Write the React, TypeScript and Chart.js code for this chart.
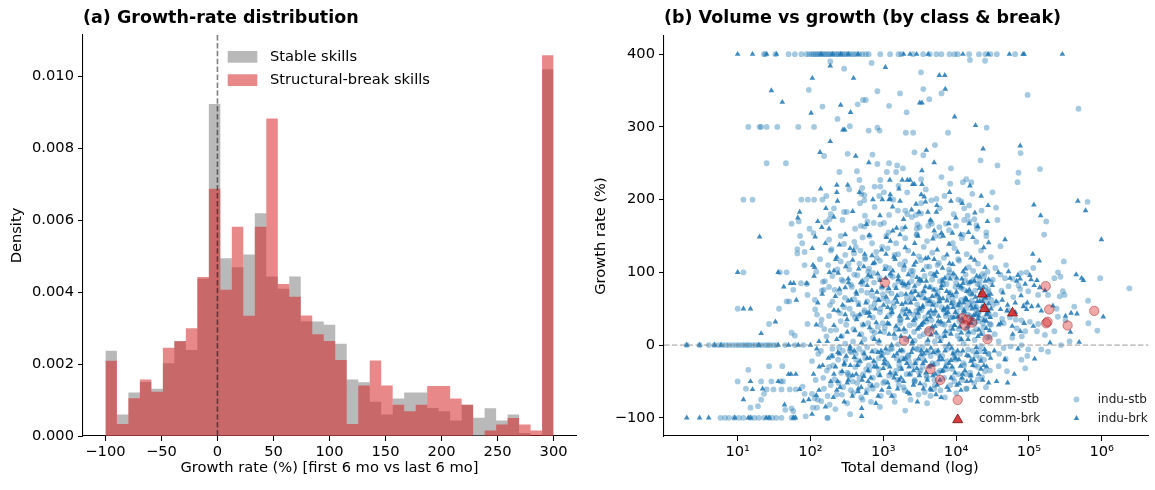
import React, { useEffect, useRef } from 'react';
import { Chart, registerables } from 'chart.js';

Chart.register(...registerables);

const FONT = "'DejaVu Sans', sans-serif";

// ---------- Panel (a): histogram ----------
const HIST_MIN = -100;
const HIST_MAX = 300;
const stableDensity = [
  0.00237, 0.0006, 0.00121, 0.0015, 0.00131, 0.00202, 0.00264, 0.00239, 0.00437, 0.00922,
  0.00494, 0.00469, 0.00504, 0.00619, 0.00443, 0.00409, 0.00443, 0.00319, 0.00318, 0.00309,
  0.00256, 0.00157, 0.00149, 0.00095, 0.0006, 0.00104, 0.00121, 0.00121, 0.00078, 0.00069,
  0.00043, 0.00087, 0.00051, 0.00077, 0.00043, 0.0006, 0.00008, 0, 0.01019,
];
const breakDensity = [
  0.00209, 0.00033, 0.00105, 0.00157, 0.00123, 0.00245, 0.00263, 0.00299, 0.00442, 0.00687,
  0.00406, 0.00581, 0.00334, 0.00581, 0.00882, 0.00422, 0.00387, 0.00335, 0.00283, 0.00264,
  0.00211, 0.00033, 0.0014, 0.0021, 0.0014, 0.00087, 0.00069, 0.00087, 0.00139, 0.00139,
  0.00104, 0.00087, 0, 0.00015, 0.00032, 0.0005, 0.00032, 0.00015, 0.01058,
];
const histXTicks = [-100, -50, 0, 50, 100, 150, 200, 250, 300];
const histYTicks = [0, 0.002, 0.004, 0.006, 0.008, 0.01];

// ---------- Panel (b): scatter [total demand, growth %] ----------
const scatterXTicks = [10, 100, 1000, 10000, 100000, 1000000];
const scatterYTicks = [-100, 0, 100, 200, 300, 400];

const induStb: number[][] = [
  [23,400],[24,400],[33,400],[50,400],[61,400],[75,400],[88,400],[96,400],[104,400],[110,400],[117,400],[124,400],[131,400],[139,400],[147,400],[156,400],[165,400],[175,400],[186,400],[198,400],[212,400],[226,400],[240,400],[256,400],[272,400],[290,400],[310,400],[335,400],[362,400],[392,400],[425,400],[465,400],[515,400],[575,400],[630,400],[910,400],[1240,400],[1620,400],[1780,400],[2570,400],[3530,400],[4350,400],[5370,400],[6280,400],[8130,400],[9500,400],[10500,400],[15100,400],[20600,400],[25300,400],[29600,400],[36300,400],[64800,400],
  [14,300],[20,300],[21,300],[25,300],[35,300],[68,300],[112,300],[25,250],[46,250],
  [12,200],[16,200],[75,200],[92,200],[112,200],[146,200],[12,100],[38,100],[47,100],[10,50],[37,50],
  [2,0],[3,0],[4,0],[4.8,0],[5.5,0],[6.2,0],[6.9,0],[7.6,0],[8.5,0],[9.5,0],[10.4,0],[11.5,0],[12.5,0],[13.5,0],[14.5,0],[16,0],[17.5,0],[19.5,0],[21.5,0],[24,0],[26,0],[28,0],[31,0],[34,0],[45,0],[61,0],[80,0],
  [5.8,-100],[6.7,-100],[7.6,-100],[9,-100],[10.4,-100],[12,-100],[15,-100],[17,-100],[19.5,-100],[23,-100],[27,-100],[30,-100],[34,-100],[40,-100],[55,-100],[60,-100],[170,-100],
  [95,351],[146,328],[154,260],[69,170],[55,167],[97,160],[110,154],[72,150],[163,169],
  [187,390],[690,388],[290,380],[3300,375],[15500,392],[25000,391],[830,349],[1700,346],[3550,352],[6300,346],[4280,338],[525,337],[575,337],[445,331],[1200,329],[2090,320],[235,311],[347,301],[630,295],[830,299],[890,295],[2040,292],[2570,292],[26300,299],[7740,292],[5130,275],[3550,261],[2680,265],[324,263],[710,262],[21700,254],[830,249],[1200,250],[1550,247],[1860,243],[8500,243],[250,238],[435,239],[1120,238],[1500,238],[6300,231],[12400,224],[13800,228],[16200,224],[470,227],[910,227],[3310,228],[1620,219],[8300,222],[513,216],[500,208],[550,206],[760,218],[910,218],[1020,210],[550,199],[4570,199],[5370,201],[11800,198],[15100,192],[31600,210],[2000,185],[2140,180],[2820,179],[3300,181],[1200,179],[910,166],[740,168],[605,170],[490,164],[550,163],[288,183],[316,183],[182,173],[190,180],[2950,166],[3150,162],[2880,160],[4140,164],[4650,167],[5890,162],[7250,167],[10000,164],[12900,172],[15100,170],[17800,173],[19000,165],[12900,188],
  [96000,344],[480000,325],[77000,264],[37000,247],[142000,242],[72000,237],[70000,224],[35400,189],[640000,197],[173000,170],[37000,172],[162000,152],
  [77,140],[66,132],[83,128],[66,126],[83,110],[120,101],[148,87],[152,76],[74,85],[58,76],[47,60],[51,60],[89,84],[91,69],[116,49],[143,75],[27,29],[55,17],[61,13],[91,29],[138,28],[155,22],[123,42],[14,-34],[10,-50],[13,-60],[15,-86],[19,-84],[21,-75],[21,-50],[29,-50],[39,-50],[42,-50],[25,-61],[31,-61],[40,-61],[52,-61],[63,-61],[23,-67],[27,-29],[41,-29],[55,-87],[58,-91],[45,-89],[78,-57],[83,-67],[105,-67],[114,-73],[141,-77],[108,-86],[86,-98],[123,-86],
  [180,145],[260,150],[400,142],[520,148],[1100,150],[1500,140],[2000,147],[2900,152],[4000,143],[6000,150],[9000,140],[12000,147],[19000,142],[26000,150],
  [190,130],[300,124],[420,135],[560,120],[800,128],[1150,133],[1600,125],[2200,130],[3100,122],[3600,135],[4700,127],[6800,120],[9500,133],[14000,125],[22000,130],[30000,121],
  [175,110],[260,115],[340,104],[470,112],[620,101],[900,116],[1200,106],[1700,111],[2400,102],[3300,117],[4300,108],[5800,113],[8000,104],[11000,116],[15000,107],[20000,112],[27000,101],
  [200,95],[280,88],[400,97],[580,90],[730,99],[1350,94],[1800,87],[2500,96],[3200,90],[4500,98],[6000,88],[7800,95],[10000,86],[13500,97],[17500,90],[23000,98],[30000,87],
  [180,80],[250,72],[360,83],[500,75],[700,68],[950,79],[1300,71],[1900,82],[2600,74],[3400,66],[4400,80],[5600,72],[7400,84],[9800,68],[12500,77],[16000,70],[21000,83],[27000,73],
  [200,60],[290,52],[400,63],[550,48],[760,57],[1000,64],[1400,53],[1850,46],[2300,60],[3100,50],[4000,62],[5300,55],[7000,47],[9000,61],[11500,52],[15000,58],[19000,48],[25000,62],[32000,55],[2600,42],[4800,58],[10500,40],[20000,44],
  [180,40],[260,33],[380,43],[520,28],[720,38],[980,30],[1300,44],[1750,35],[2300,27],[3000,40],[3900,32],[5000,44],[6500,29],[8400,38],[11000,33],[14500,42],[18000,30],[24000,37],[30000,28],
  [190,20],[270,12],[390,22],[550,8],[760,17],[1050,24],[1450,10],[2000,19],[2700,6],[3600,15],[4700,23],[6200,9],[8100,18],[10500,13],[13800,22],[18000,7],[23000,16],[29000,11],
  [200,-5],[300,2],[420,-12],[600,-3],[850,4],[1150,-10],[1600,1],[2200,-14],[3000,-6],[4000,3],[5400,-11],[7200,-2],[9600,-13],[12700,2],[17000,-8],[22000,-1],[28000,-12],
  [180,-30],[240,-20],[330,-40],[460,-25],[640,-35],[870,-18],[1200,-42],[1650,-28],[2250,-22],[3100,-38],[4000,-45],[5500,-25],[7500,-33],[10000,-20],[13500,-40],[18000,-28],[25000,-36],
  [190,-55],[270,-68],[380,-50],[520,-75],[720,-60],[1000,-52],[1400,-70],[1900,-58],[2700,-48],[3700,-65],[5100,-55],[7000,-72],[9500,-50],[14000,-60],[20000,-47],
  [220,-88],[350,-95],[900,-85],[2000,-90],[4000,-80],[173,-100],
  [1150,60],[1450,82],[1700,30],[1900,104],[2100,65],[2450,88],[2650,18],[2850,47],[3250,70],[3450,-3],[3700,95],[4100,57],[4600,34],[5200,76],[5600,12],[5900,60],[6600,90],[7000,28],[7700,51],[8200,72],[8900,38],[9400,95],[10300,55],[10800,22],[11600,79],[12600,44],[13300,64],[14800,85],[15500,40],[16400,61],[17300,18],[18300,75],[19100,52],[20200,33],[21300,90],[22400,62],[23800,24],[25100,80],[26400,49],[27800,66],[29100,29],[900,45],[700,20],[600,60],[450,40],[350,-8],[1500,-35],[2700,-50],[5000,-60],[9000,-45],
  [40700,136],[302000,115],[251000,100],[272000,94],[955000,92],[2400000,78],[34600,106],[40700,97],[47000,92],[60000,91],[78000,99],[93000,100],[115000,106],[224000,92],[293000,74],[265000,67],[309000,69],[52500,81],[76000,77],[98000,74],[134000,69],[183000,69],[650000,61],[420000,53],[240000,50],[250000,39],[318000,34],[656000,30],[870000,20],[34600,42],[43000,36],[55000,38],[79000,34],[103000,32],[134000,29],[68000,23],[89000,19],[129000,19],[166000,14],[224000,19],[38500,5],[45000,-4],[59000,10],[79000,0],[98000,-6],[148000,-6],[276000,0],[362000,5],[48000,-19],[38500,-29],[50000,-36],[79000,-20],[183000,-9],[89000,-32],
  [115,62],[128,-12],[135,118],[142,35],[150,-45],[158,88],[166,12],[172,-70],[185,55],[195,132],[205,-28],[215,76],[225,21],[235,104],[245,-52],[255,44],[268,90],[278,-8],[288,139],[298,65],[310,28],[322,-38],[334,112],[346,50],[358,-62],[370,80],[385,5],[398,126],[410,38],[425,-20],[440,96],[455,58],[470,-45],[485,130],[500,15],[515,84],[530,-10],[548,45],[565,118],[582,-33],[600,72],[620,30],[640,105],[660,-55],[680,52],[700,140],[722,10],[745,86],[768,-25],[790,63],[815,120],[840,25],[865,-40],[890,92],[915,50],[940,-12],[965,135],[990,70],
  [1030,18],[1070,108],[1110,-26],[1160,75],[1210,41],[1260,96],[1310,-5],[1370,58],[1430,124],[1490,22],[1560,-48],[1620,88],[1690,35],[1760,70],[1830,-18],[1910,49],[1990,115],[2070,8],[2160,80],[2250,44],[2350,-40],[2450,66],[2560,102],[2670,29],[2790,-22],[2910,56],[3040,85],[3170,12],[3310,48],[3460,-30],[3610,73],[3770,38],[3940,108],[4110,20],[4290,62],[4480,-15],[4680,90],[4890,43],[5100,5],[5330,68],[5560,110],[5810,30],[6070,-35],[6340,52],[6620,83],[6910,14],[7220,40],[7540,-22],[7870,66],[8220,100],[8590,25],[8970,58],[9370,-10],[9780,80],[10200,46],[10700,118],[11200,8],[11700,62],[12200,32],[12700,-25],[13300,89],[13900,51],[14500,15],[15100,72],[15800,-42],[16500,38],[17200,102],[18000,57],[18800,22],[19600,84],[20500,45],[21400,-18],[22400,70],[23400,30],[24400,95],[25500,54],[26700,10],[27900,76],[29200,40],[30500,62],
  [32000,90],[34000,15],[36500,58],[39000,-12],[42000,75],[45000,30],[48500,110],[52000,48],[56000,-2],[61000,66],[66000,35],[72000,82],[80000,12],[88000,55],[95000,-15],
  [105,-22],[118,-48],[126,-75],[139,-8],[153,-60],[168,-35],[183,-82],[197,-15],[214,-47],[229,-68],[247,-3],[263,-38],[281,-58],[301,-20],[319,-80],[341,-43],[364,-10],[388,-66],[412,-30],[438,-52],[466,-5],[497,-72],[528,-40],[562,-18],[598,-62],[636,-28],[678,-78],[720,-45],[768,-8],[815,-55],[868,-33],[925,-70],[985,-12],[1048,-50],[1116,-25],[1188,-65],[1265,-5],[1348,-40],[1435,-78],[1528,-18],[1627,-55],[1733,-32],[1845,-8],[1964,-62],[2091,-40],[2227,-15],[2371,-75],[2525,-28],[2688,-50],[2862,-5],[3048,-68],[3245,-35],[3455,-18],[3680,-55],[3918,-42],[4172,-10],[4442,-70],[4730,-25],[5036,-48],[5362,-8],[5710,-38],[6080,-62],[6474,-15],[6893,-45],[7340,-28],[7815,-5],[8322,-55],[8861,-33],[9435,-18],[10046,-66],[10697,-40],[11390,-12],[12128,-48],[12914,-28],[13750,-60],[14640,-6],[15590,-38],[16600,-20],[17680,-52],[18820,-14],[20040,-30],[21340,-8],[22720,-44],[24200,-20],[25760,-58],[27430,-12],[29200,-35],
  [165,205],[210,188],[275,172],[340,214],[410,160],[480,195],[560,178],[650,150],[760,190],[880,205],[1020,168],[1180,155],[1370,200],[1590,185],[1840,160],[2130,210],[2470,176],[2860,152],[3310,195],[3840,214],[4450,170],[5150,150],[5970,188],[6920,205],[8010,158],[9280,180],[10750,200],[12450,152],[14420,178],[16700,208],[19350,160],[22400,185],[26000,155],
];

const induBrk: number[][] = [
  [10,400],[16,400],[25,400],[34,400],[140,400],[200,400],[260,400],[330,400],[450,400],[1900,400],[2330,400],[2870,400],[4140,400],[12400,400],[27600,400],[54000,400],[83000,400],[86000,400],[288000,400],
  [2,0],[3,0],[4.8,0],[5.9,0],[19.5,0],[36,0],[50,0],[68,0],[100,0],
  [2,-100],[3,-100],[4,-100],[9.1,-100],[14,-100],[15,-100],[24.7,-100],[27,-100],[58,-100],[62,-100],
  [106,367],[29,350],[41,334],[102,319],[135,265],[138,215],[163,188],[71,183],[67,175],[126,170],[143,162],[20,149],[116,149],
  [187,384],[1070,382],[390,367],[5890,371],[7000,371],[7100,352],[3170,333],[3400,333],[260,330],[355,320],[9550,314],[279,296],[295,296],[18500,302],[187,280],[23500,270],[3900,268],[418,260],[633,251],[5000,251],[3390,240],[1230,227],[1820,227],[2140,227],[2330,227],[3400,221],[2680,221],[2530,221],[15500,219],[230,220],[325,220],[230,210],[1245,207],[1245,201],[970,200],[1200,200],[1700,198],[2820,194],[3800,197],[3320,207],[8500,198],[27500,192],[3090,183],[4100,183],[5370,183],[1900,173],[209,176],[1520,161],[1350,157],[5000,157],[6300,154],[7940,167],[8900,154],[15200,167],[19900,163],
  [76000,274],[117000,193],[470000,198],[600000,185],[145000,178],[990000,145],[47000,145],
  [106,133],[108,110],[114,107],[10,100],[36,100],[43,80],[53,85],[59,85],[64,62],[89,85],[126,58],[12,50],[15,50],[33,32],[21,16],[131,5],[15,-50],[16,-61],[12,-75],[22,-60],[36,-50],[50,-40],[54,-40],[63,-40],[44,-82],[71,-61],[80,-77],[95,-75],[105,-95],[120,-69],
  [250,138],[640,151],[1250,143],[1700,152],[2700,140],[4800,146],[8000,139],[11500,152],[17000,148],[28000,141],
  [230,121],[350,133],[700,123],[950,131],[1400,121],[2000,134],[2600,125],[3800,119],[5500,131],[7500,124],[10500,128],[16000,120],[24000,134],
  [210,102],[380,117],[540,108],[760,113],[1050,104],[1450,118],[1950,109],[2800,114],[3500,103],[5000,118],[6500,106],[9000,111],[12500,101],[18000,117],[25000,107],
  [240,99],[330,91],[490,86],[680,94],[900,89],[1250,98],[1600,90],[2200,85],[2900,93],[3900,88],[5200,95],[7000,92],[9200,98],[12000,91],[16000,87],[21000,94],[28000,90],
  [220,67],[300,79],[430,70],[600,82],[820,73],[1100,66],[1500,78],[2050,70],[2700,81],[3600,74],[4700,67],[6200,78],[8200,71],[10800,82],[14000,74],[18500,66],[23500,79],[30000,70],
  [240,47],[330,61],[460,55],[640,45],[860,62],[1150,52],[1550,59],[2100,49],[2700,63],[3500,54],[4500,47],[5900,60],[7600,52],[9800,45],[12800,58],[16500,50],[21000,60],[28000,46],[1800,56],[3000,44],[6600,64],[13500,64],[17500,41],[8600,57],
  [210,27],[300,42],[430,35],[600,44],[800,31],[1100,38],[1500,26],[2000,42],[2600,34],[3400,29],[4400,39],[5700,33],[7300,43],[9400,27],[12000,36],[15800,31],[20500,40],[26000,33],
  [230,8],[320,18],[470,14],[650,24],[880,6],[1200,15],[1650,21],[2300,11],[3100,24],[4100,7],[5300,17],[7000,12],[9000,22],[11800,8],[15000,18],[20000,12],[26000,23],
  [250,-12],[350,-2],[500,3],[700,-9],[950,-15],[1300,0],[1800,-7],[2500,2],[3300,-13],[4500,-4],[6000,-15],[8000,1],[10500,-8],[14000,-14],[19000,-3],[25000,-10],
  [210,-40],[290,-27],[400,-17],[540,-43],[740,-22],[1000,-32],[1400,-45],[1900,-20],[2600,-35],[3500,-25],[4800,-42],[6500,-20],[8800,-30],[12000,-45],[16000,-22],[22000,-33],
  [230,-62],[320,-52],[450,-64],[620,-50],[850,-70],[1200,-58],[1650,-48],[2300,-67],[3200,-53],[4400,-60],[6000,-48],[8000,-62],[11000,-53],[16000,-49],[5300,-68],
  [505,-87],[505,-98],
  [1080,92],[1320,45],[1550,68],[1750,12],[1980,83],[2150,37],[2380,58],[2550,-5],[2750,74],[2950,22],[3150,50],[3350,88],[3550,31],[3750,64],[3950,-8],[4150,44],[4350,79],[4550,14],[4750,55],[4950,97],[5150,26],[5450,69],[5750,40],[6050,5],[6350,82],[6700,48],[7100,19],[7500,61],[7900,33],[8300,91],[8700,-4],[9100,52],[9600,27],[10100,73],[10600,39],[11200,58],[11800,17],[12400,85],[13000,46],[13700,63],[14400,25],[15200,76],[16000,54],[16800,35],[17700,88],[18600,42],[19600,60],[20600,21],[21700,72],[22800,53],[24000,34],[25200,65],[26500,44],[28000,57],[29500,38],[1200,29],[1650,-22],[2250,-30],[3050,-19],[3850,-38],[4900,-27],[6400,-36],[8500,-21],[11500,-29],
  [113000,125],[139000,116],[446000,97],[530000,92],[560000,89],[52500,101],[70500,96],[76000,91],[103000,96],[107000,90],[129000,89],[68000,88],[89000,84],[118000,82],[141000,79],[166000,75],[43000,62],[65000,58],[84000,53],[109000,53],[134000,54],[214000,54],[380000,44],[458000,43],[318000,40],[1050000,39],[40700,49],[50000,47],[93000,49],[148000,47],[38500,28],[59000,26],[76000,19],[115000,26],[195000,3],[372000,18],[490000,4],[120000,-19],[63000,-40],[36000,-50],[51000,-52],
  [112,95],[120,28],[132,-30],[145,70],[160,140],[170,5],[182,100],[198,-15],[210,48],[222,118],[236,-50],[250,77],[262,12],[276,55],[292,-25],[305,108],[318,35],[332,86],[348,-5],[362,62],[378,-42],[392,130],[408,20],[424,73],[442,-28],[460,105],[478,42],[496,-58],[515,88],[535,28],[556,125],[578,58],[600,-18],[624,96],[648,40],[672,-45],[698,75],[724,112],[752,8],[780,50],[810,-30],[840,98],[870,62],[900,18],[932,-8],[965,80],
  [1010,55],[1045,-20],[1090,125],[1140,30],[1190,78],[1240,-38],[1290,50],[1350,102],[1410,15],[1470,64],[1540,-12],[1610,95],[1680,40],[1750,-45],[1830,85],[1920,22],[2010,58],[2100,-25],[2200,97],[2300,46],[2410,72],[2520,5],[2640,110],[2760,36],[2890,-32],[3020,68],[3160,90],[3300,27],[3450,52],[3610,-12],[3780,80],[3950,35],[4130,120],[4320,60],[4520,-28],[4730,25],[4950,76],[5180,47],[5420,100],[5670,-8],[5930,65],[6200,32],[6490,88],[6790,50],[7100,-30],[7430,74],[7770,45],[8130,112],[8500,15],[8900,68],[9300,38],[9730,-18],[10200,92],[10700,55],[11200,25],[11700,80],[12200,-40],[12800,48],[13400,105],[14000,62],[14600,8],[15300,86],[16000,30],[16700,70],[17500,-20],[18300,52],[19200,95],[20100,36],[21000,78],[22000,15],[23000,60],[24100,-28],[25200,88],[26400,42],[27600,68],[28900,20],[30200,50],
  [31500,82],[33500,-8],[35500,60],[38000,100],[41000,30],[44000,72],[47000,-20],[51000,55],[55000,92],[60000,15],[65000,45],[71000,-5],[78000,68],[86000,30],[95000,58],
  [110,-40],[122,-5],[131,-62],[147,-28],[161,-85],[176,-18],[190,-50],[206,-72],[221,-30],[238,-10],[255,-58],[272,-36],[291,-78],[310,-15],[330,-48],[352,-28],[376,-70],[400,-8],[425,-40],[452,-60],[481,-22],[512,-48],[545,-12],[580,-66],[617,-35],[657,-18],[700,-56],[745,-30],[793,-80],[844,-10],[898,-42],[956,-62],[1018,-25],[1083,-5],[1153,-52],[1227,-30],[1306,-70],[1391,-15],[1480,-40],[1576,-60],[1677,-8],[1785,-33],[1900,-50],[2022,-18],[2153,-65],[2291,-40],[2439,-10],[2596,-55],[2764,-25],[2942,-78],[3132,-42],[3334,-8],[3549,-60],[3778,-22],[4021,-48],[4281,-30],[4557,-62],[4851,-10],[5164,-40],[5497,-55],[5852,-20],[6229,-72],[6631,-35],[7059,-8],[7515,-58],[8000,-25],[8516,-45],[9066,-12],[9651,-38],[10274,-55],[10937,-20],[11643,-62],[12394,-8],[13194,-35],[14045,-50],[14952,-15],[15917,-42],[16944,-28],[18037,-58],[19201,-10],[20440,-40],[21760,-22],[23160,-48],[24660,-6],[26250,-30],[27940,-52],[29750,-18],
  [180,160],[235,198],[300,152],[380,184],[470,210],[590,166],[720,200],[900,178],[1100,148],[1340,190],[1640,215],[2000,162],[2450,186],[2990,150],[3650,204],[4460,172],[5450,192],[6650,150],[8120,210],[9920,175],[12100,195],[14800,155],[18100,182],[22100,205],[27000,170],
];

const commStb: number[][] = [
  [1050,86],[1930,6],[4270,19],[4450,-33],[6030,-48],[12300,37],[14300,35],[16600,31],[13300,27],[27000,8],[170000,81],[190000,49],[173000,30],[180000,32],[340000,27],[790000,47],
];
const commBrk: number[][] = [[23000,70],[24500,50],[59600,44]];

// ---------- helpers ----------
const fmtSigned = (v: number) => (v < 0 ? '\u2212' + Math.abs(v) : String(v));
const SUP: Record<string, string> = { '0': '\u2070', '1': '\u00b9', '2': '\u00b2', '3': '\u00b3', '4': '\u2074', '5': '\u2075', '6': '\u2076', '7': '\u2077', '8': '\u2078', '9': '\u2079' };
const fmtPow = (v: number) => {
  const e = Math.round(Math.log10(v));
  return '10' + String(e).split('').map((c) => SUP[c]).join('');
};

function triPath(ctx: CanvasRenderingContext2D, x: number, y: number, r: number) {
  ctx.beginPath();
  for (let k = 0; k < 3; k++) {
    const a = (k * 2 * Math.PI) / 3;
    const px = x + Math.sin(a) * r;
    const py = y - Math.cos(a) * r;
    if (k === 0) ctx.moveTo(px, py);
    else ctx.lineTo(px, py);
  }
  ctx.closePath();
}

const TICK_FONT = { family: FONT, size: 14.67 };
const axisCommon = {
  grid: { drawOnChartArea: false, drawTicks: true, tickLength: 5, color: '#000', tickWidth: 1.07, offset: false },
  border: { display: true, color: '#000', width: 1.07 },
};

const GREY = 'rgba(128,128,128,0.55)';
const RED = 'rgba(214,39,40,0.55)';

function stepData(density: number[]) {
  const n = density.length;
  const w = (HIST_MAX - HIST_MIN) / n;
  const pts = density.map((y, i) => ({ x: HIST_MIN + w * i, y }));
  pts.push({ x: HIST_MAX, y: density[n - 1] });
  return pts;
}

function leftConfig(): any {
  const overlay = {
    id: 'leftOverlay',
    afterDatasetsDraw(chart: any) {
      const { ctx, chartArea, scales } = chart;
      const x0 = scales.x.getPixelForValue(0);
      ctx.save();
      ctx.strokeStyle = 'rgba(0,0,0,0.5)';
      ctx.lineWidth = 1.6;
      ctx.setLineDash([5.5, 2.4]);
      ctx.beginPath();
      ctx.moveTo(x0, chartArea.top);
      ctx.lineTo(x0, chartArea.bottom);
      ctx.stroke();
      ctx.restore();
    },
    afterDraw(chart: any) {
      const { ctx, chartArea } = chart;
      ctx.save();
      ctx.fillStyle = '#000';
      ctx.textBaseline = 'middle';
      ctx.font = `bold 17.5px ${FONT}`;
      ctx.textAlign = 'left';
      ctx.fillText('(a) Growth-rate distribution', chartArea.left, 18);
      ctx.font = `14.67px ${FONT}`;
      ctx.textAlign = 'center';
      ctx.fillText('Growth rate (%) [first 6 mo vs last 6 mo]', (chartArea.left + chartArea.right) / 2, 468);
      ctx.save();
      ctx.translate(17, (chartArea.top + chartArea.bottom) / 2);
      ctx.rotate(-Math.PI / 2);
      ctx.fillText('Density', 0, 0);
      ctx.restore();
      ctx.fillStyle = GREY;
      ctx.fillRect(227.7, 51, 29.6, 11.7);
      ctx.fillStyle = RED;
      ctx.fillRect(227.7, 74.3, 29.6, 11.7);
      ctx.fillStyle = '#000';
      ctx.textAlign = 'left';
      ctx.fillText('Stable skills', 270, 57);
      ctx.fillText('Structural-break skills', 270, 80.3);
      ctx.restore();
    },
  };
  const histDs = (label: string, density: number[], color: string, order: number) => ({
    label,
    data: stepData(density),
    stepped: 'before',
    fill: 'origin',
    backgroundColor: color,
    borderColor: 'rgba(0,0,0,0)',
    borderWidth: 0,
    pointRadius: 0,
    pointHoverRadius: 0,
    tension: 0,
    order,
  });
  return {
    type: 'line',
    data: {
      datasets: [
        histDs('Stable skills', stableDensity, GREY, 2),
        histDs('Structural-break skills', breakDensity, RED, 1),
      ],
    },
    options: {
      responsive: false,
      animation: false,
      devicePixelRatio: 1,
      layout: { padding: { left: 0, top: 35, right: 4, bottom: 0 } },
      plugins: { legend: { display: false }, tooltip: { enabled: false }, title: { display: false }, filler: { propagate: false } },
      scales: {
        x: {
          type: 'linear',
          min: -120,
          max: 320,
          offset: false,
          ...axisCommon,
          afterBuildTicks: (s: any) => { s.ticks = histXTicks.map((v) => ({ value: v })); },
          afterFit: (s: any) => { s.height = 54; },
          ticks: { callback: (v: number) => fmtSigned(v), font: TICK_FONT, color: '#000', padding: 2, maxRotation: 0, autoSkip: false },
        },
        y: {
          type: 'linear',
          min: 0,
          max: 0.01114,
          ...axisCommon,
          afterBuildTicks: (s: any) => { s.ticks = histYTicks.map((v) => ({ value: v })); },
          afterFit: (s: any) => { s.width = 83; },
          ticks: { callback: (v: number) => v.toFixed(3), font: TICK_FONT, color: '#000', padding: 4 },
        },
      },
    },
    plugins: [overlay],
  };
}

const OX = 580; // right canvas page offset

function rightConfig(): any {
  const overlay = {
    id: 'rightOverlay',
    afterDatasetsDraw(chart: any) {
      const { ctx, chartArea, scales } = chart;
      const y0 = scales.y.getPixelForValue(0);
      ctx.save();
      ctx.strokeStyle = 'rgba(128,128,128,0.45)';
      ctx.lineWidth = 1.6;
      ctx.setLineDash([5.5, 2.4]);
      ctx.beginPath();
      ctx.moveTo(chartArea.left, y0);
      ctx.lineTo(chartArea.right, y0);
      ctx.stroke();
      ctx.restore();
    },
    afterDraw(chart: any) {
      const { ctx, chartArea } = chart;
      ctx.save();
      ctx.fillStyle = '#000';
      ctx.textBaseline = 'middle';
      ctx.font = `bold 17.5px ${FONT}`;
      ctx.textAlign = 'left';
      ctx.fillText('(b) Volume vs growth (by class & break)', chartArea.left, 18);
      ctx.font = `14.67px ${FONT}`;
      ctx.textAlign = 'center';
      ctx.fillText('Total demand (log)', 910 - OX, 468);
      ctx.save();
      ctx.translate(601 - OX, (chartArea.top + chartArea.bottom) / 2);
      ctx.rotate(-Math.PI / 2);
      ctx.fillText('Growth rate (%)', 0, 0);
      ctx.restore();
      const c1 = 957.7 - OX;
      const c2 = 1076.5 - OX;
      ctx.beginPath();
      ctx.arc(c1, 400, 4.7, 0, Math.PI * 2);
      ctx.fillStyle = 'rgba(214,39,40,0.4)';
      ctx.fill();
      ctx.strokeStyle = 'rgba(139,0,0,0.5)';
      ctx.lineWidth = 0.8;
      ctx.stroke();
      triPath(ctx, c1, 419.8, 5.8);
      ctx.fillStyle = 'rgba(214,39,40,0.9)';
      ctx.fill();
      ctx.strokeStyle = '#6b1010';
      ctx.lineWidth = 0.8;
      ctx.stroke();
      ctx.beginPath();
      ctx.arc(c2, 399.5, 2.9, 0, Math.PI * 2);
      ctx.fillStyle = 'rgba(31,119,180,0.4)';
      ctx.fill();
      triPath(ctx, c2, 418.3, 3.3);
      ctx.fillStyle = 'rgba(31,119,180,0.85)';
      ctx.fill();
      ctx.fillStyle = '#222';
      ctx.font = `12px ${FONT}`;
      ctx.textAlign = 'left';
      ctx.fillText('comm-stb', 979 - OX, 400);
      ctx.fillText('comm-brk', 979 - OX, 418.5);
      ctx.fillText('indu-stb', 1097.7 - OX, 400);
      ctx.fillText('indu-brk', 1097.7 - OX, 418.5);
      ctx.restore();
    },
  };
  const toXY = (arr: number[][]) => arr.map(([x, y]) => ({ x, y }));
  return {
    type: 'scatter',
    data: {
      datasets: [
        {
          label: 'indu-stb',
          data: toXY(induStb),
          pointStyle: 'circle',
          pointRadius: 2.9,
          pointBackgroundColor: 'rgba(31,119,180,0.4)',
          pointBorderWidth: 0,
          pointHoverRadius: 2.9,
          order: 4,
        },
        {
          label: 'indu-brk',
          data: toXY(induBrk),
          pointStyle: 'triangle',
          pointRadius: 3.3,
          pointBackgroundColor: 'rgba(31,119,180,0.85)',
          pointBorderWidth: 0,
          pointHoverRadius: 3.3,
          order: 3,
        },
        {
          label: 'comm-stb',
          data: toXY(commStb),
          pointStyle: 'circle',
          pointRadius: 4.7,
          pointBackgroundColor: 'rgba(214,39,40,0.4)',
          pointBorderColor: 'rgba(139,0,0,0.5)',
          pointBorderWidth: 0.8,
          pointHoverRadius: 4.7,
          order: 2,
        },
        {
          label: 'comm-brk',
          data: toXY(commBrk),
          pointStyle: 'triangle',
          pointRadius: 5.8,
          pointBackgroundColor: 'rgba(214,39,40,0.9)',
          pointBorderColor: '#6b1010',
          pointBorderWidth: 0.8,
          pointHoverRadius: 5.8,
          order: 1,
        },
      ],
    },
    options: {
      responsive: false,
      animation: false,
      devicePixelRatio: 1,
      layout: { padding: { left: 0, top: 36, right: 0, bottom: 0 } },
      plugins: { legend: { display: false }, tooltip: { enabled: false }, title: { display: false } },
      scales: {
        x: {
          type: 'logarithmic',
          min: 0.973,
          max: 4.38e6,
          ...axisCommon,
          afterBuildTicks: (s: any) => { s.ticks = scatterXTicks.map((v) => ({ value: v })); },
          afterFit: (s: any) => { s.height = 54; },
          ticks: { callback: (v: number) => fmtPow(v), font: TICK_FONT, color: '#000', padding: 2, maxRotation: 0, autoSkip: false },
        },
        y: {
          type: 'linear',
          min: -125,
          max: 425,
          ...axisCommon,
          afterBuildTicks: (s: any) => { s.ticks = scatterYTicks.map((v) => ({ value: v })); },
          afterFit: (s: any) => { s.width = 664 - OX; },
          ticks: { callback: (v: number) => fmtSigned(v), font: TICK_FONT, color: '#000', padding: 4 },
        },
      },
    },
    plugins: [overlay],
  };
}

export default function App() {
  const leftRef = useRef<HTMLCanvasElement>(null);
  const rightRef = useRef<HTMLCanvasElement>(null);
  useEffect(() => {
    Chart.defaults.font.family = FONT;
    const c1 = new Chart(leftRef.current as HTMLCanvasElement, leftConfig());
    const c2 = new Chart(rightRef.current as HTMLCanvasElement, rightConfig());
    return () => {
      c1.destroy();
      c2.destroy();
    };
  }, []);
  return (
    <div style={{ position: 'fixed', left: 0, top: 0, width: 1155, height: 490, background: '#fff' }}>
      <canvas ref={leftRef} width={580} height={490} style={{ position: 'absolute', left: 0, top: 0, width: 580, height: 490 }} />
      <canvas ref={rightRef} width={575} height={490} style={{ position: 'absolute', left: OX, top: 0, width: 575, height: 490 }} />
    </div>
  );
}
